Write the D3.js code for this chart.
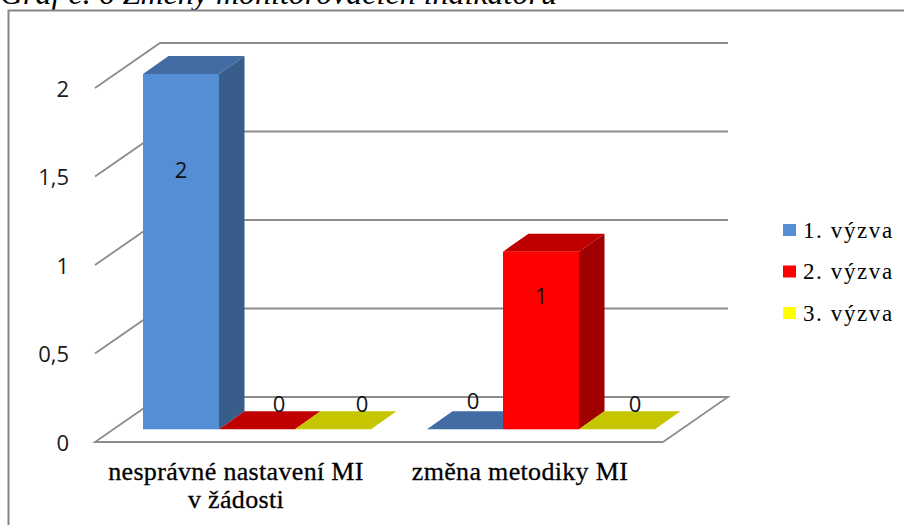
<!DOCTYPE html>
<html>
<head>
<meta charset="utf-8">
<script src="https://cdnjs.cloudflare.com/ajax/libs/d3/7.8.5/d3.min.js"></script>
<style>
html,body{margin:0;padding:0;background:#fff;overflow:hidden}
svg{display:block}
</style>
</head>
<body>
<svg id="chart" width="904" height="525"></svg>
<script>
const categories = [["nesprávné nastavení MI", "v žádosti"], ["změna metodiky MI"]];
const seriesNames = ["1. výzva", "2. výzva", "3. výzva"];
const seriesFirst = [2, 0];    // 1. výzva
const seriesSecond = [0, 1];   // 2. výzva
const seriesThird = [0, 0];    // 3. výzva
const yTicks = [0, 0.5, 1, 1.5, 2];
const frontColors = ["#558ed5", "#ff0000", "#ffff00"];
const topColors = ["#426ca3", "#c00000", "#c6c600"];
const sideColors = ["#385d8a", "#a00000", "#a0a000"];
// Hand-placed value labels: horizontal shift from the bar centre, baseline relative to the bar top
const labelShiftX = [[0, 22, 29], [8, 0, 18]];
const labelShiftY = [[104, -17, -17], [-20, 52, -17]];

const allSeries = [seriesFirst, seriesSecond, seriesThird];
const svg = d3.select("#chart");
const fmt = v => String(v).replace(".", ",");

// page caption and chart frame
svg.append("text").attr("x", 0).attr("y", 4)
  .attr("font-family", "Liberation Serif").attr("font-style", "italic")
  .attr("font-size", 32).attr("fill", "#000")
  .text("Graf č. 6 Změny monitorovacích indikátorů");
svg.append("path").attr("d", "M8.5,526V10.5H905")
  .attr("fill", "none").attr("stroke", "#868686").attr("stroke-width", 2);

// scales
const floorDepth = {x: 65, y: -45};
const barDepth = {x: 25.5, y: -18};
const yFront = d3.scaleLinear().domain([0, 2]).range([442, 88]);
const yBar = d3.scaleLinear().domain([0, 2]).range([429.3, 74]);
const xFloor = d3.scaleLinear().domain([0, 1]).range([95, 663]);
const xCat = d3.scaleBand().domain(d3.range(categories.length)).range([115, 683])
  .paddingInner(56 / 284).paddingOuter(28 / 284);
const xSer = d3.scaleBand().domain(d3.range(seriesNames.length)).range([0, xCat.bandwidth()]);

// walls and floor
const grid = svg.append("g").attr("fill", "none").attr("stroke", "#8c8c8c").attr("stroke-width", 1.8);
const x0 = xFloor(0), x1 = xFloor(1);
yTicks.forEach(t => {
  const y = yFront(t);
  const pts = t === 0
    ? [[x1, y], [x0, y], [x0 + floorDepth.x, y + floorDepth.y], [x1 + floorDepth.x, y + floorDepth.y], [x1, y]]
    : [[x0, y], [x0 + floorDepth.x, y + floorDepth.y], [x1 + floorDepth.x, y + floorDepth.y]];
  grid.append("path").attr("d", d3.line()(pts));
});

// y axis labels
svg.append("g").selectAll("text").data(yTicks).join("text")
  .attr("x", 69).attr("y", d => yFront(d) + 8.5)
  .attr("text-anchor", "end").attr("font-family", "Open Sans").attr("font-size", 22).attr("fill", "#1a1a1a")
  .text(fmt);

// bars drawn as their three visible faces
const bars = [];
categories.forEach((c, i) => seriesNames.forEach((s, k) => bars.push({i, k, v: allSeries[k][i]})));
const gBars = svg.append("g");
bars.forEach(d => {
  const l = xCat(d.i) + xSer(d.k), r = l + xSer.bandwidth();
  const b = yBar(0), t = yBar(d.v);
  const dx = barDepth.x, dy = barDepth.y;
  const g = gBars.append("g");
  g.append("path").attr("fill", topColors[d.k])
    .attr("d", d3.line()([[l, t], [r, t], [r + dx, t + dy], [l + dx, t + dy]]) + "Z");
  if (d.v > 0) {
    g.append("path").attr("fill", sideColors[d.k])
      .attr("d", d3.line()([[r, b], [r + dx, b + dy], [r + dx, t + dy], [r, t]]) + "Z");
  }
});
// front faces go last so they cover any flat neighbour behind them
bars.filter(d => d.v > 0).forEach(d => {
  const l = xCat(d.i) + xSer(d.k);
  gBars.append("rect").attr("x", l).attr("y", yBar(d.v)).attr("width", xSer.bandwidth())
    .attr("height", yBar(0) - yBar(d.v)).attr("fill", frontColors[d.k]);
});

// value labels
svg.append("g").selectAll("text").data(bars).join("text")
  .attr("x", d => xCat(d.i) + xSer(d.k) + xSer.bandwidth() / 2 + labelShiftX[d.i][d.k])
  .attr("y", d => yBar(d.v) + labelShiftY[d.i][d.k])
  .attr("text-anchor", "middle").attr("font-family", "Open Sans").attr("font-size", 22).attr("fill", "#111")
  .text(d => fmt(d.v));

// category labels
const catG = svg.append("g").attr("font-family", "Liberation Serif").attr("font-size", 26).attr("fill", "#000")
  .attr("text-anchor", "middle").attr("stroke", "#000").attr("stroke-width", 0.3).attr("letter-spacing", 0.33);
categories.forEach((lines, i) => {
  lines.forEach((line, j) => {
    catG.append("text")
      .attr("x", xCat(i) + xCat.bandwidth() / 2 - 21)
      .attr("y", 480 + j * 28).text(line);
  });
});

// legend
const legendY = d3.scalePoint().domain(d3.range(seriesNames.length)).range([230, 313]);
const leg = svg.append("g");
seriesNames.forEach((s, k) => {
  leg.append("rect").attr("x", 783).attr("y", legendY(k) - 6).attr("width", 13).attr("height", 12).attr("fill", frontColors[k]);
  leg.append("text").attr("x", 803).attr("y", legendY(k) + 7.5)
    .attr("font-family", "Liberation Serif").attr("font-size", 23).attr("letter-spacing", 1.6).attr("fill", "#000").text(s);
});
</script>
</body>
</html>
